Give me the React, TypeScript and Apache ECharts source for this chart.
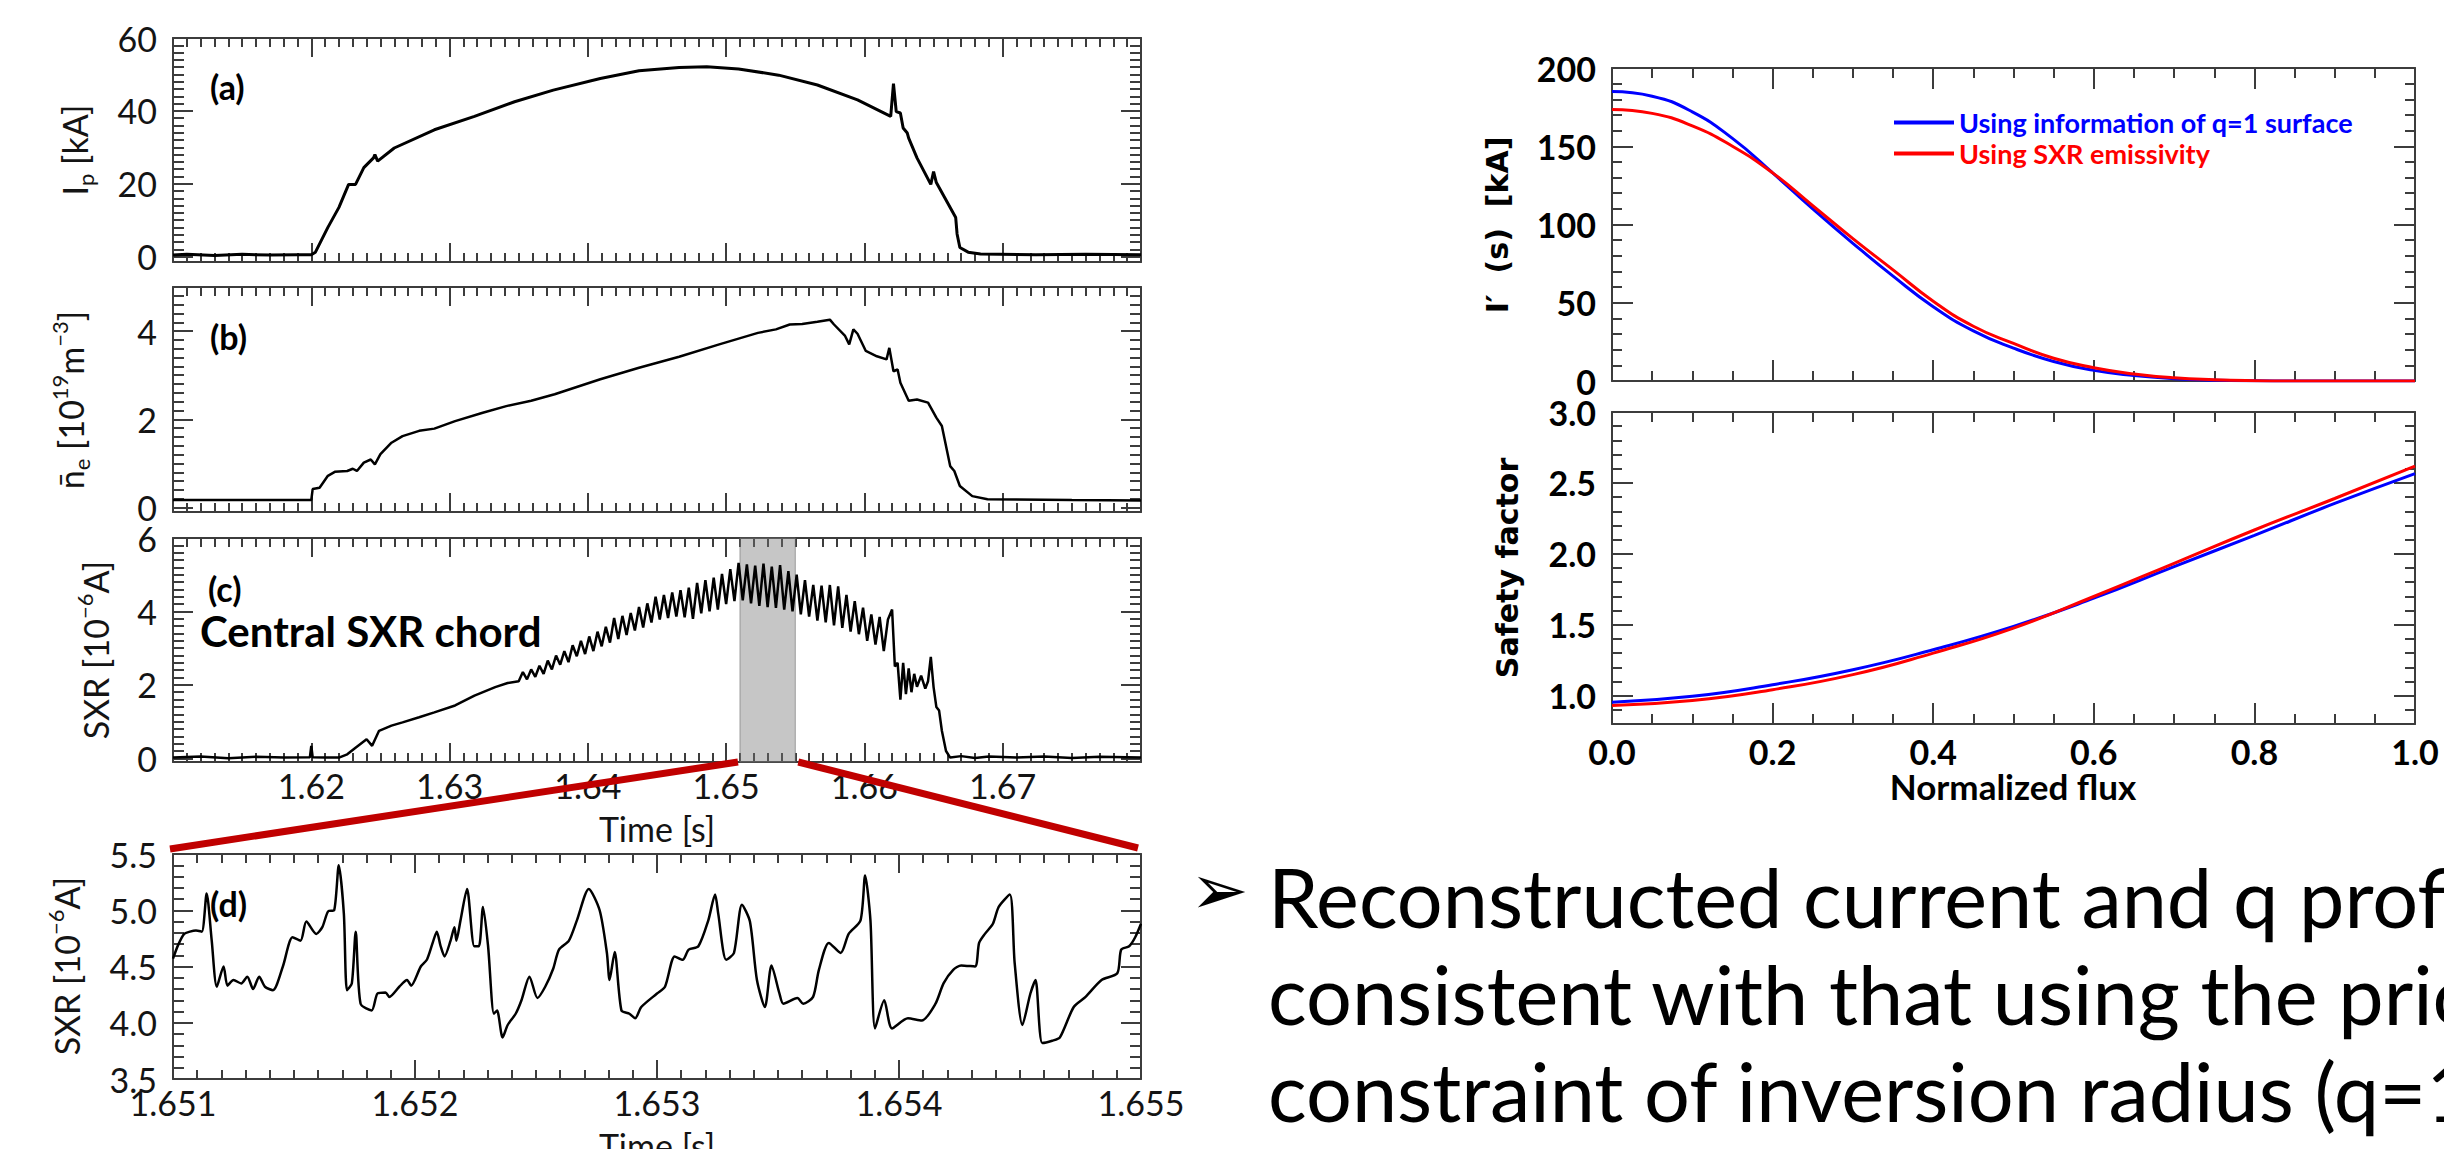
import React, { useEffect, useRef } from "react";
import * as echarts from "echarts";

// ---------------- DATA ----------------
// (a) plasma current Ip [kA] vs time [s]
const ipData: [number, number][] = [
  [1.61, 0.4], [1.611, 0.6], [1.613, 0.3], [1.615, 0.6], [1.617, 0.4], [1.619, 0.5], [1.62, 0.5],
  [1.6203, 1.2], [1.6212, 8.0], [1.622, 13.5], [1.6227, 19.8], [1.6232, 19.8], [1.6238, 24.4],
  [1.6245, 27.1], [1.6246, 28.0], [1.6248, 26.2], [1.626, 29.8], [1.6289, 34.8], [1.6318, 38.5],
  [1.6347, 42.5], [1.6375, 45.7], [1.6409, 48.9], [1.6437, 51.0], [1.6466, 51.9], [1.6486, 52.1],
  [1.6509, 51.5], [1.6538, 49.8], [1.6566, 47.1], [1.6595, 43.0], [1.6619, 38.5], [1.6621, 47.5],
  [1.6623, 39.8], [1.6626, 39.4], [1.6628, 35.3], [1.6631, 33.9], [1.6632, 32.5], [1.6638, 27.1],
  [1.6648, 19.8], [1.665, 23.3], [1.6652, 20.3], [1.6658, 16.2], [1.6666, 10.7], [1.6667, 6.2],
  [1.6669, 2.5], [1.6675, 1.2], [1.6684, 0.7], [1.6724, 0.5], [1.676, 0.6], [1.68, 0.5],
];

// (b) line-averaged density [1e19 m^-3]
const neData: [number, number][] = [
  [1.61, 0.17], [1.62, 0.17], [1.6201, 0.42], [1.6206, 0.45], [1.6212, 0.72], [1.6217, 0.81],
  [1.6226, 0.83], [1.623, 0.88], [1.6233, 0.83], [1.6238, 1.02], [1.6243, 1.09], [1.6246, 0.98],
  [1.625, 1.21], [1.6258, 1.47], [1.6266, 1.62], [1.6278, 1.74], [1.6289, 1.79], [1.6304, 1.96],
  [1.6324, 2.15], [1.6341, 2.3], [1.6359, 2.42], [1.6376, 2.57], [1.6409, 2.91], [1.6437, 3.17],
  [1.6466, 3.42], [1.6495, 3.7], [1.6523, 3.96], [1.6536, 4.04], [1.6546, 4.15], [1.6555, 4.16],
  [1.6566, 4.21], [1.6575, 4.26], [1.6578, 4.15], [1.6586, 3.89], [1.6589, 3.7], [1.6592, 4.04],
  [1.6595, 3.94], [1.6601, 3.55], [1.6609, 3.43], [1.6616, 3.36], [1.6618, 3.62], [1.6621, 3.09],
  [1.6624, 3.13], [1.6626, 2.83], [1.6632, 2.42], [1.6638, 2.45], [1.6646, 2.38], [1.6652, 2.04],
  [1.6656, 1.85], [1.6662, 0.94], [1.6665, 0.83], [1.6669, 0.49], [1.6678, 0.26], [1.6689, 0.19],
  [1.675, 0.17], [1.68, 0.16],
];

// (c) central SXR chord [1e-6 A]
const sxrData: [number, number][] = [
  [1.61, 0.02], [1.612, 0.05], [1.614, 0.0], [1.616, 0.04], [1.618, 0.02], [1.6199, 0.03], [1.62, 0.34],
  [1.6201, 0.03], [1.621, 0.02], [1.622, 0.02], [1.6226, 0.11], [1.6232, 0.29], [1.624, 0.52],
  [1.6244, 0.34], [1.6249, 0.75], [1.6258, 0.89], [1.6266, 0.98], [1.6278, 1.12], [1.6289, 1.25],
  [1.6304, 1.44], [1.6318, 1.71], [1.6333, 1.94], [1.6342, 2.05],
  [1.635, 2.1], [1.6353, 2.35], [1.6356, 2.15], [1.6359, 2.42], [1.6362, 2.22], [1.6365, 2.52],
  [1.6368, 2.3], [1.6371, 2.66], [1.6374, 2.42], [1.6377, 2.8], [1.638, 2.55], [1.6383, 2.92],
  [1.6386, 2.62], [1.6389, 3.08], [1.6392, 2.78], [1.6395, 3.2], [1.6398, 2.84], [1.6401, 3.32],
  [1.6404, 2.92], [1.6407, 3.45], [1.641, 3.05], [1.6413, 3.58], [1.6416, 3.15], [1.6419, 3.82],
  [1.6422, 3.25], [1.6425, 3.88], [1.6428, 3.36], [1.6431, 3.96], [1.6434, 3.48], [1.6437, 4.12],
  [1.644, 3.56], [1.6443, 4.22], [1.6446, 3.7], [1.6449, 4.4], [1.6452, 3.78], [1.6455, 4.45],
  [1.6458, 3.82], [1.6461, 4.52], [1.6464, 3.86], [1.6467, 4.58], [1.647, 3.84], [1.6473, 4.65],
  [1.6476, 3.8], [1.6479, 4.78], [1.6482, 3.95], [1.6485, 4.85], [1.6488, 4.0], [1.6491, 4.92],
  [1.6494, 4.05], [1.6497, 5.02], [1.65, 4.2], [1.6503, 5.15], [1.6506, 4.28], [1.6509, 5.32],
  [1.6512, 4.3], [1.6515, 5.28], [1.6518, 4.22], [1.6521, 5.25], [1.6524, 4.15], [1.6527, 5.3],
  [1.653, 4.12], [1.6533, 5.22], [1.6536, 4.1], [1.6539, 5.26], [1.6542, 4.05], [1.6545, 5.1],
  [1.6548, 4.0], [1.6551, 5.0], [1.6554, 3.92], [1.6557, 4.85], [1.656, 3.86], [1.6563, 4.72],
  [1.6566, 3.75], [1.6569, 4.7], [1.6572, 3.7], [1.6575, 4.72], [1.6578, 3.62], [1.6581, 4.68],
  [1.6584, 3.55], [1.6587, 4.45], [1.659, 3.45], [1.6593, 4.28], [1.6596, 3.38], [1.6599, 4.1],
  [1.6602, 3.2], [1.6605, 3.92], [1.6608, 3.1], [1.6611, 3.85], [1.6614, 2.92], [1.6617, 3.78],
  [1.662, 4.05], [1.6622, 2.5], [1.6624, 2.6], [1.6626, 1.6], [1.6628, 2.6], [1.663, 1.75],
  [1.6632, 2.45], [1.6634, 1.8], [1.6636, 2.3], [1.6638, 1.95], [1.6641, 2.25], [1.6644, 1.9],
  [1.6646, 2.1], [1.6648, 2.76], [1.665, 1.94], [1.6652, 1.4], [1.6654, 1.3], [1.6656, 0.75],
  [1.6659, 0.2], [1.6662, 0.02], [1.667, 0.06], [1.668, 0.01], [1.669, 0.05], [1.671, 0.02],
  [1.673, 0.05], [1.675, 0.01], [1.677, 0.04], [1.68, 0.02],
];

// (d) zoom of central SXR chord [1e-6 A]
const sxrZoomData: [number, number][] = [
  [1.651, 4.57], [1.651021, 4.69], [1.651046, 4.79], [1.65107, 4.81], [1.651095, 4.82], [1.651119, 4.81],
  [1.651139, 5.15], [1.65116, 4.73], [1.651181, 4.32], [1.651209, 4.5], [1.651225, 4.33], [1.65125, 4.38],
  [1.651282, 4.35], [1.651307, 4.41], [1.651331, 4.3], [1.651356, 4.41], [1.65138, 4.32], [1.651413, 4.29],
  [1.651454, 4.5], [1.651494, 4.76], [1.651527, 4.73], [1.651551, 4.9], [1.651592, 4.79], [1.651617, 4.85],
  [1.651641, 4.99], [1.651666, 5.0], [1.651685, 5.4], [1.651706, 4.97], [1.651719, 4.29], [1.651739, 4.35],
  [1.651755, 4.81], [1.651775, 4.17], [1.651821, 4.11], [1.651845, 4.26], [1.651878, 4.27], [1.651894, 4.23],
  [1.651935, 4.32], [1.651967, 4.38], [1.651984, 4.33], [1.652024, 4.5], [1.652049, 4.56], [1.652073, 4.71],
  [1.65209, 4.81], [1.652106, 4.68], [1.652122, 4.59], [1.652147, 4.73], [1.652163, 4.85], [1.652171, 4.73],
  [1.652188, 4.91], [1.652215, 5.19], [1.652245, 4.68], [1.652264, 4.68], [1.652281, 5.03], [1.652302, 4.68],
  [1.652326, 4.08], [1.652339, 4.11], [1.652362, 3.87], [1.652383, 3.98], [1.652416, 4.08], [1.65244, 4.2],
  [1.652473, 4.41], [1.652506, 4.22], [1.652538, 4.32], [1.652571, 4.48], [1.652595, 4.65], [1.652636, 4.73],
  [1.652669, 4.91], [1.652718, 5.19], [1.652763, 5.0], [1.652793, 4.62], [1.652804, 4.38], [1.652825, 4.63],
  [1.652853, 4.11], [1.652886, 4.08], [1.65291, 4.04], [1.652935, 4.14], [1.653, 4.26], [1.653033, 4.32],
  [1.653073, 4.59], [1.653106, 4.56], [1.653131, 4.65], [1.653171, 4.68], [1.653212, 4.91], [1.65324, 5.14],
  [1.653253, 4.97], [1.653286, 4.56], [1.653318, 4.62], [1.653351, 5.05], [1.653384, 4.9], [1.653413, 4.38],
  [1.653446, 4.14], [1.653473, 4.51], [1.653506, 4.26], [1.653522, 4.17], [1.65358, 4.22], [1.653604, 4.17],
  [1.653645, 4.23], [1.653669, 4.47], [1.65371, 4.71], [1.653759, 4.62], [1.653792, 4.79], [1.653841, 4.91],
  [1.65386, 5.31], [1.653882, 4.91], [1.653901, 3.95], [1.653939, 4.2], [1.653971, 3.95], [1.654037, 4.04],
  [1.654094, 4.02], [1.654151, 4.17], [1.654184, 4.35], [1.654224, 4.47], [1.654257, 4.51], [1.654314, 4.5],
  [1.654331, 4.71], [1.654355, 4.79], [1.654388, 4.88], [1.654412, 5.03], [1.654458, 5.14], [1.654478, 4.53],
  [1.65451, 3.98], [1.654543, 4.26], [1.654564, 4.38], [1.654592, 3.82], [1.654633, 3.84], [1.654665, 3.87],
  [1.654722, 4.14], [1.654771, 4.23], [1.654837, 4.38], [1.654902, 4.44], [1.654918, 4.65], [1.654951, 4.68],
  [1.654976, 4.76], [1.655, 4.88],
];

// Right panels: profiles vs normalized flux
const fluxI = [0, 0.05, 0.1, 0.15, 0.2, 0.25, 0.3, 0.35, 0.4, 0.45, 0.5, 0.55, 0.6, 0.65, 0.7, 0.75, 0.8, 0.85, 0.9, 0.95, 1.0];
const currentQ1 = [185, 182, 172, 155, 133, 110, 88, 67, 47.5, 32, 21, 12.5, 6.8, 3.5, 1.5, 0.5, 0.1, 0, 0, 0, 0];
const currentSXR = [173.5, 171, 163, 150, 133, 112, 91, 71, 51, 35, 24, 14.5, 8.5, 4.5, 2, 0.8, 0.2, 0, 0, 0, 0];
const fluxQ = [0, 0.1, 0.2, 0.3, 0.4, 0.5, 0.6, 0.7, 0.8, 0.9, 1.0];
const qQ1 = [0.953, 0.995, 1.077, 1.183, 1.324, 1.488, 1.687, 1.91, 2.13, 2.355, 2.566];
const qSXR = [0.93, 0.965, 1.042, 1.148, 1.3, 1.476, 1.699, 1.933, 2.168, 2.39, 2.618];

// tick labels
const timeTicks = [1.62, 1.63, 1.64, 1.65, 1.66, 1.67];
const zoomWindow = [1.651, 1.655];
const zoomTimeTicks = [1.651, 1.652, 1.653, 1.654, 1.655];
const ipTicks = [0, 20, 40, 60];
const neTicks = [0, 2, 4];
const sxrTicks = [0, 2, 4, 6];
const sxrZoomTicks = [3.5, 4.0, 4.5, 5.0, 5.5];
const fluxTicks = [0, 0.2, 0.4, 0.6, 0.8, 1.0];
const currentTicks = [0, 50, 100, 150, 200];
const qTicks = [1.0, 1.5, 2.0, 2.5, 3.0];

const NAME_Q1 = "Using information of q=1 surface";
const NAME_SXR = "Using SXR emissivity";

// ---------------- LAYOUT ----------------
const GRIDS = [
  { left: 173, top: 38, width: 968, height: 224 },
  { left: 173, top: 287, width: 968, height: 225 },
  { left: 173, top: 538, width: 968, height: 224 },
  { left: 173, top: 854, width: 968, height: 225 },
  { left: 1612, top: 68, width: 803, height: 313 },
  { left: 1612, top: 412, width: 803, height: 312 },
];
const AXIS_COLOR = "#3c3c3c";
const LFONT = "Lato, 'Open Sans', sans-serif";

function steps(a: number, b: number, s: number): number[] {
  const n = Math.round((b - a) / s);
  const out: number[] = [];
  for (let i = 0; i <= n; i++) out.push(+(a + i * s).toFixed(6));
  return out;
}

type AxOpt = {
  min: number; max: number; major: number[]; minor: number[];
  labels?: number[]; fmt?: (v: number) => string; font?: any; margin?: number;
  majorLen: number; minorLen: number;
};

function buildAxes(dim: "x" | "y", gi: number, o: AxOpt) {
  const pos = dim === "x" ? ["bottom", "top"] : ["left", "right"];
  const line = { color: AXIS_COLOR, width: 2 };
  const mk = (position: string, vals: number[], len: number, showLine: boolean, withLabel: boolean) => ({
    type: "value",
    gridIndex: gi,
    position,
    min: o.min,
    max: o.max,
    axisLine: { show: showLine, onZero: false, lineStyle: line },
    axisTick: { show: true, inside: true, length: len, customValues: vals, lineStyle: line },
    axisLabel:
      withLabel && o.labels
        ? { show: true, customValues: o.labels, formatter: (v: number) => (o.fmt ? o.fmt(v) : String(v)), margin: o.margin ?? 8, ...o.font }
        : { show: false },
    splitLine: { show: false },
  });
  return [
    mk(pos[0], o.major, o.majorLen, true, true),
    mk(pos[0], o.minor, o.minorLen, false, false),
    mk(pos[1], o.major, o.majorLen, true, false),
    mk(pos[1], o.minor, o.minorLen, false, false),
  ];
}

const leftTickFont = { fontFamily: LFONT, fontSize: 34, color: "#141414" };
const rightTickFont = { fontFamily: LFONT, fontSize: 34, fontWeight: "bold", color: "#000" };

export default function App() {
  const ref = useRef<HTMLDivElement>(null);

  useEffect(() => {
    if (!ref.current) return;
    const chart = echarts.init(ref.current, undefined, { renderer: "svg" });

    const timeMajor = steps(1.61, 1.68, 0.01);
    const timeMinor = steps(1.61, 1.68, 0.001);
    const zMajor = steps(1.651, 1.655, 0.001);
    const zMinor = steps(1.651, 1.655, 0.0001);
    const fMajor = steps(0, 1, 0.2);
    const fMinor = steps(0, 1, 0.05);

    const ranges = {
      a: [-1.5, 60], b: [-0.1, 5.0], c: [-0.1, 6.0], d: [3.5, 5.5], e: [0, 200], f: [0.8, 3.0],
    };

    const xAxes: any[] = [
      ...buildAxes("x", 0, { min: 1.61, max: 1.68, major: timeMajor, minor: timeMinor, majorLen: 19, minorLen: 9 }),
      ...buildAxes("x", 1, { min: 1.61, max: 1.68, major: timeMajor, minor: timeMinor, majorLen: 19, minorLen: 9 }),
      ...buildAxes("x", 2, { min: 1.61, max: 1.68, major: timeMajor, minor: timeMinor, majorLen: 19, minorLen: 9, labels: timeTicks, fmt: (v) => v.toFixed(2), font: leftTickFont, margin: 6 }),
      ...buildAxes("x", 3, { min: zoomWindow[0], max: zoomWindow[1], major: zMajor, minor: zMinor, majorLen: 19, minorLen: 9, labels: zoomTimeTicks, fmt: (v) => v.toFixed(3), font: leftTickFont, margin: 6 }),
      ...buildAxes("x", 4, { min: 0, max: 1, major: fMajor, minor: fMinor, majorLen: 21, minorLen: 10 }),
      ...buildAxes("x", 5, { min: 0, max: 1, major: fMajor, minor: fMinor, majorLen: 21, minorLen: 10, labels: fluxTicks, fmt: (v) => v.toFixed(1), font: rightTickFont, margin: 10 }),
    ];
    const yAxes: any[] = [
      ...buildAxes("y", 0, { min: ranges.a[0], max: ranges.a[1], major: ipTicks, minor: steps(0, 60, 2), majorLen: 20, minorLen: 11, labels: ipTicks, fmt: (v) => String(v), font: leftTickFont, margin: 16 }),
      ...buildAxes("y", 1, { min: ranges.b[0], max: ranges.b[1], major: neTicks, minor: steps(0, 5, 0.2), majorLen: 20, minorLen: 11, labels: neTicks, fmt: (v) => String(v), font: leftTickFont, margin: 16 }),
      ...buildAxes("y", 2, { min: ranges.c[0], max: ranges.c[1], major: sxrTicks, minor: steps(0, 6, 0.2), majorLen: 20, minorLen: 11, labels: sxrTicks, fmt: (v) => String(v), font: leftTickFont, margin: 16 }),
      ...buildAxes("y", 3, { min: ranges.d[0], max: ranges.d[1], major: sxrZoomTicks, minor: steps(3.5, 5.5, 0.1), majorLen: 20, minorLen: 11, labels: sxrZoomTicks, fmt: (v) => v.toFixed(1), font: leftTickFont, margin: 16 }),
      ...buildAxes("y", 4, { min: ranges.e[0], max: ranges.e[1], major: currentTicks, minor: steps(0, 200, 10), majorLen: 21, minorLen: 10, labels: currentTicks, fmt: (v) => String(v), font: rightTickFont, margin: 16 }),
      ...buildAxes("y", 5, { min: ranges.f[0], max: ranges.f[1], major: qTicks, minor: steps(0.8, 3.0, 0.1), majorLen: 21, minorLen: 10, labels: qTicks, fmt: (v) => v.toFixed(1), font: rightTickFont, margin: 16 }),
    ];

    const blackLine = (name: string, gi: number, data: [number, number][], width: number, extra: any = {}) => ({
      type: "line", name, xAxisIndex: gi * 4, yAxisIndex: gi * 4, data, symbol: "none",
      lineStyle: { color: "#000", width }, itemStyle: { color: "#000" }, ...extra,
    });
    const profLine = (name: string, gi: number, xs: number[], ys: number[], color: string) => ({
      type: "line", name, xAxisIndex: gi * 4, yAxisIndex: gi * 4, symbol: "none", smooth: true,
      data: xs.map((x, i) => [x, ys[i]]), lineStyle: { color, width: 3 }, itemStyle: { color },
    });

    const series: any[] = [
      blackLine("Ip", 0, ipData, 3),
      blackLine("ne", 1, neData, 2.5),
      blackLine("SXR", 2, sxrData, 2.5, {
        markArea: {
          silent: true,
          itemStyle: { color: "rgba(120,120,120,0.42)", borderColor: "rgba(110,110,110,0.6)", borderWidth: 1 },
          data: [[{ xAxis: zoomWindow[0] }, { xAxis: zoomWindow[1] }]],
        },
      }),
      blackLine("SXR zoom", 3, sxrZoomData, 2.5, { smooth: 0.25 }),
      profLine(NAME_Q1, 4, fluxI, currentQ1, "#0000ff"),
      profLine(NAME_SXR, 4, fluxI, currentSXR, "#ff0000"),
      profLine(NAME_Q1, 5, fluxQ, qQ1, "#0000ff"),
      profLine(NAME_SXR, 5, fluxQ, qSXR, "#ff0000"),
    ];

    chart.setOption({
      animation: false,
      backgroundColor: "#ffffff",
      grid: GRIDS.map((g) => ({ ...g, containLabel: false, outerBoundsMode: "none" })),
      xAxis: xAxes,
      yAxis: yAxes,
      legend: {
        orient: "vertical", left: 1889, top: 104, itemWidth: 60, itemHeight: 4, itemGap: 4,
        icon: "rect", selectedMode: false,
        textStyle: { fontFamily: LFONT, fontWeight: "bold", fontSize: 27 },
        data: [
          { name: NAME_Q1, textStyle: { color: "#0000ff" } },
          { name: NAME_SXR, textStyle: { color: "#ff0000" } },
        ],
      },
      series,
    });

    // connector lines from the shaded window in (c) to the corners of (d)
    const cBottomL = chart.convertToPixel({ seriesIndex: 2 }, [zoomWindow[0], ranges.c[0]]) as number[];
    const cBottomR = chart.convertToPixel({ seriesIndex: 2 }, [zoomWindow[1], ranges.c[0]]) as number[];
    const dTopL = chart.convertToPixel({ seriesIndex: 3 }, [zoomWindow[0], ranges.d[1]]) as number[];
    const dTopR = chart.convertToPixel({ seriesIndex: 3 }, [zoomWindow[1], ranges.d[1]]) as number[];

    const vText = (x: number, y: number, text: string, rich: any, style: any = {}) => ({
      type: "text", x, y, rotation: Math.PI / 2, z: 50,
      style: { text, rich, align: "center", verticalAlign: "middle", fill: "#141414", ...style },
    });
    const leftRich = {
      n: { fontFamily: LFONT, fontSize: 34, lineHeight: 44, fill: "#141414" },
      s: { fontFamily: LFONT, fontSize: 22, lineHeight: 22, verticalAlign: "bottom", fill: "#141414" },
      u: { fontFamily: LFONT, fontSize: 22, lineHeight: 22, verticalAlign: "top", fill: "#141414" },
    };
    const label = (x: number, y: number, text: string, size: number) => ({
      type: "text", x, y, z: 50,
      style: { text, fontFamily: LFONT, fontWeight: "bold", fontSize: size, fill: "#000", align: "left", verticalAlign: "middle" },
    });
    const plain = (x: number, y: number, text: string, size: number, extra: any = {}) => ({
      type: "text", x, y, z: 50,
      style: { text, fontFamily: LFONT, fontSize: size, fill: "#141414", align: "center", verticalAlign: "middle", ...extra },
    });

    const graphic: any[] = [
      { type: "line", z: 100, shape: { x1: cBottomL[0] - 2, y1: cBottomL[1], x2: dTopL[0] - 3, y2: dTopL[1] - 5 }, style: { stroke: "#c00000", lineWidth: 7 } },
      { type: "line", z: 100, shape: { x1: cBottomR[0] + 3, y1: cBottomR[1], x2: dTopR[0] - 3, y2: dTopR[1] - 6 }, style: { stroke: "#c00000", lineWidth: 7 } },
      vText(74, 150, "{n|I}{s|p}{n| [kA]}", leftRich),
      vText(70, 400, "{n|n\u0304}{s|e}{n| [10}{u|19}{n|m}{u|\u22123}{n|]}", leftRich),
      vText(95, 650, "{n|SXR [10}{u|\u22126}{n|A]}", leftRich),
      vText(66, 966, "{n|SXR [10}{u|\u22126}{n|A]}", leftRich),
      label(210, 86, "(a)", 34),
      label(210, 336, "(b)", 34),
      label(208, 588, "(c)", 34),
      label(200, 631, "Central SXR chord", 42),
      label(210, 903, "(d)", 34),
      plain(657, 828, "Time [s]", 34),
      plain(657, 1128, "Time [s]", 34, { verticalAlign: "top" }),
      // right panels titles
      vText(1497, 225, "I\u2032  (s)  [kA]", undefined, { fontFamily: "DejaVu Sans", fontWeight: "bold", fontSize: 30, fill: "#000" }),
      vText(1507, 568, "Safety factor", undefined, { fontFamily: "DejaVu Sans", fontWeight: "bold", fontSize: 30, fill: "#000" }),
      { type: "text", x: 2013, y: 786, z: 50, style: { text: "Normalized flux", fontFamily: LFONT, fontWeight: "bold", fontSize: 35, fill: "#000", align: "center", verticalAlign: "middle" } },
      // bullet text
      { type: "text", x: 1190, y: 890, z: 50, style: { text: "\u27A2", fontFamily: "DejaVu Sans", fontSize: 70, fill: "#000", align: "left", verticalAlign: "middle" } },
      { type: "text", x: 1268, y: 896, z: 50, style: { text: "Reconstructed current and q profiles are", fontFamily: LFONT, fontSize: 81, fill: "#000", align: "left", verticalAlign: "middle" } },
      { type: "text", x: 1268, y: 993, z: 50, style: { text: "consistent with that using the prior", fontFamily: LFONT, fontSize: 81, fill: "#000", align: "left", verticalAlign: "middle" } },
      { type: "text", x: 1268, y: 1090, z: 50, style: { text: "constraint of inversion radius (q=1 surface)", fontFamily: LFONT, fontSize: 81, fill: "#000", align: "left", verticalAlign: "middle" } },
    ];
    chart.setOption({ graphic });

    return () => chart.dispose();
  }, []);

  return (
    <div
      ref={ref}
      style={{ position: "fixed", left: 0, top: 0, width: 2444, height: 1149, background: "#fff", overflow: "hidden" }}
    />
  );
}
